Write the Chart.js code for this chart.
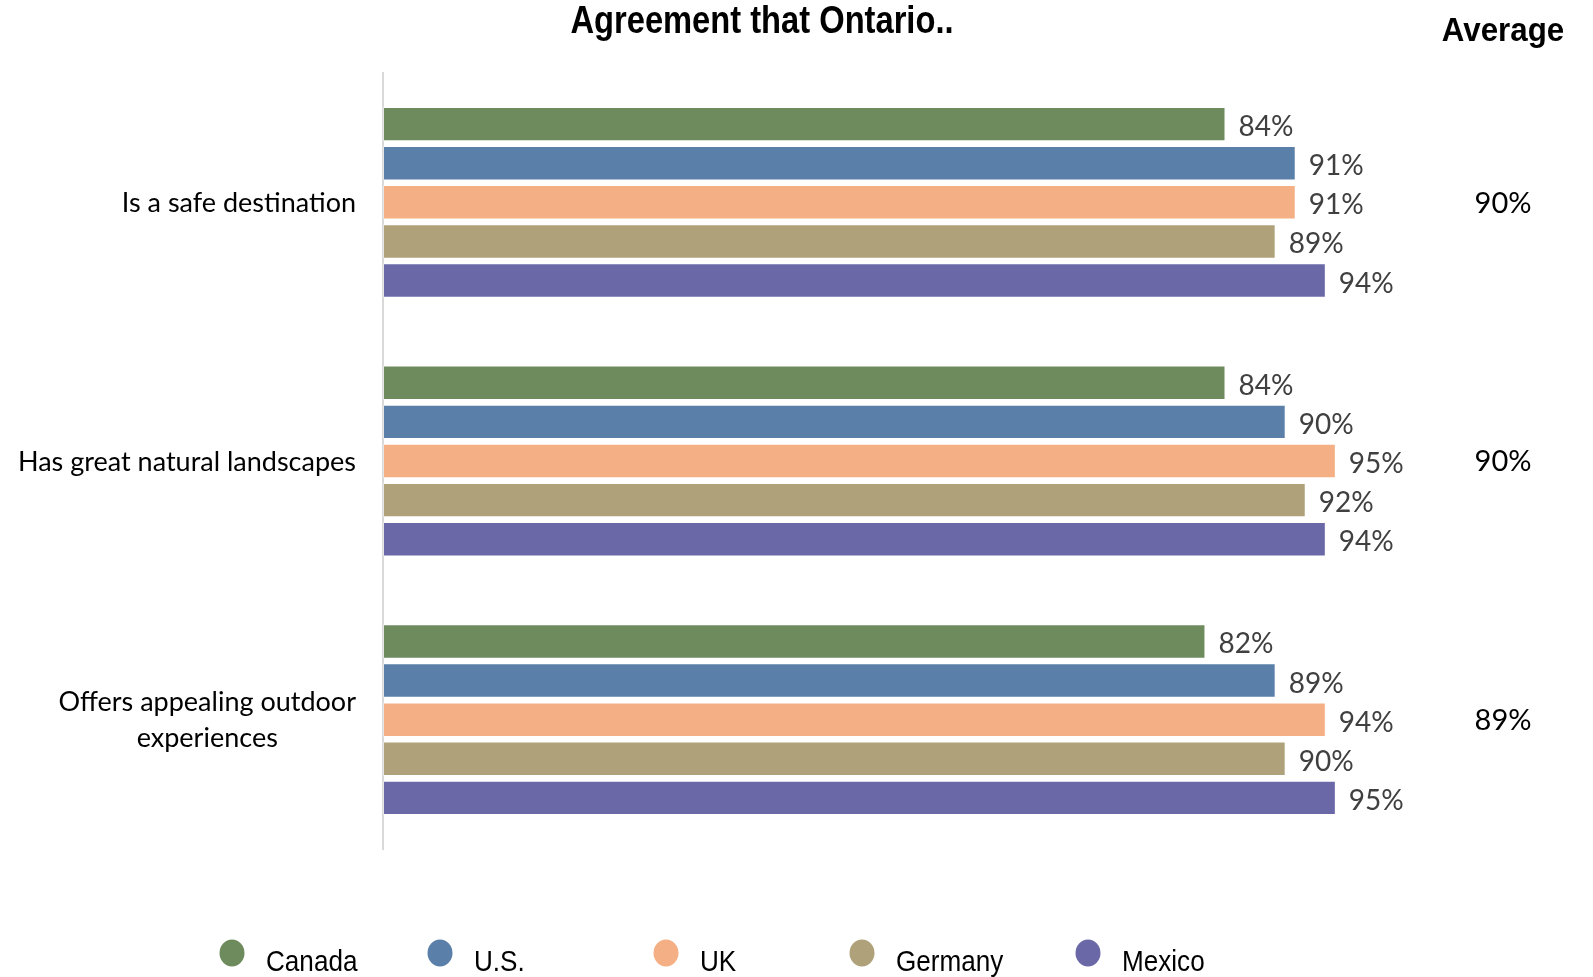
<!DOCTYPE html>
<html lang="en">
<head>
    <meta charset="UTF-8">
    <title>Agreement that Ontario..</title>
    <script src="https://cdn.jsdelivr.net/npm/chart.js@4.4.0/dist/chart.umd.min.js"></script>
    <style>
        html, body { margin: 0; padding: 0; background: #fff; }
        #wrap { position: relative; width: 1593px; height: 977px; }
    </style>
</head>
<body>
    <div id="wrap"><canvas id="myChart"></canvas></div>

    <script>
        'use strict';

        // statements (multi-line labels are arrays of lines)
        const categories = [
            ['Is a safe destination'],
            ['Has great natural landscapes'],
            ['Offers appealing outdoor', 'experiences']
        ];
        const markets = ['Canada', 'U.S.', 'UK', 'Germany', 'Mexico'];
        const marketColors = ['#6E8B5D', '#5A7FA8', '#F4B084', '#AFA17A', '#6B68A8'];

        // % agreeing, one array per market
        const canada = [84, 84, 82];
        const us = [91, 90, 89];
        const uk = [91, 95, 94];
        const germany = [89, 92, 90];
        const mexico = [94, 94, 95];
        const averages = [90, 90, 89];

        const seriesValues = [canada, us, uk, germany, mexico];

        const TEXT_FONT = 'Lato, "Open Sans", sans-serif';
        const HEAD_FONT = '"Liberation Sans", Arial, sans-serif';

        // draw text squeezed horizontally (condensed look without a condensed font)
        function narrowText(ctx, text, x, y, sx, align) {
            const w = ctx.measureText(text).width * sx;
            let left = x;
            if (align === 'center') left = x - w / 2;
            ctx.save();
            ctx.textAlign = 'left';
            ctx.translate(left, y);
            ctx.scale(sx, 1);
            ctx.fillText(text, 0, 0);
            ctx.restore();
        }

        // value label after each bar
        const barLabels = {
            id: 'barLabels',
            afterDatasetsDraw(chart) {
                const ctx = chart.ctx;
                ctx.save();
                ctx.font = '28px ' + TEXT_FONT;
                ctx.fillStyle = '#404040';
                ctx.textAlign = 'left';
                ctx.textBaseline = 'middle';
                chart.data.datasets.forEach((ds, i) => {
                    chart.getDatasetMeta(i).data.forEach((bar, j) => {
                        ctx.fillText(ds.data[j] + '%', bar.x + 13, bar.y + 3);
                    });
                });
                ctx.restore();
            }
        };

        // category labels: block right-aligned to the axis, lines centred in the block
        const categoryLabels = {
            id: 'categoryLabels',
            afterDraw(chart) {
                const ctx = chart.ctx;
                const yScale = chart.scales.y;
                const right = chart.chartArea.left - 27;
                const lineH = 36;
                ctx.save();
                ctx.font = '27px ' + TEXT_FONT;
                ctx.fillStyle = '#000';
                ctx.textAlign = 'center';
                ctx.textBaseline = 'middle';
                categories.forEach((lines, i) => {
                    const w = Math.max(...lines.map(l => ctx.measureText(l).width));
                    const cx = right - w / 2;
                    const cy = yScale.getPixelForValue(i) + 1;
                    lines.forEach((l, k) => {
                        ctx.fillText(l, cx, cy + (k - (lines.length - 1) / 2) * lineH);
                    });
                });
                ctx.restore();
            }
        };

        // title, "Average" column and legend
        const extras = {
            id: 'extras',
            afterDraw(chart) {
                const ctx = chart.ctx;
                const yScale = chart.scales.y;
                ctx.save();
                ctx.fillStyle = '#000';
                ctx.textBaseline = 'middle';
                ctx.textAlign = 'center';

                ctx.font = 'bold 38px ' + HEAD_FONT;
                narrowText(ctx, 'Agreement that Ontario..', 762, 23, 0.86, 'center');

                const avgX = 1503;
                ctx.font = 'bold 34px ' + HEAD_FONT;
                narrowText(ctx, 'Average', avgX, 32, 0.92, 'center');
                ctx.font = '29px ' + TEXT_FONT;
                averages.forEach((v, i) => {
                    ctx.fillText(v + '%', avgX, yScale.getPixelForValue(i) + 1);
                });

                const legendX = [232, 440, 666, 862, 1088];
                ctx.font = '30px ' + HEAD_FONT;
                markets.forEach((m, i) => {
                    ctx.fillStyle = marketColors[i];
                    ctx.beginPath();
                    ctx.ellipse(legendX[i], 953, 12.5, 13.5, 0, 0, Math.PI * 2);
                    ctx.fill();
                    ctx.fillStyle = '#000';
                    narrowText(ctx, m, legendX[i] + 34, 963, 0.87, 'left');
                });
                ctx.restore();
            }
        };

        const ctx = document.getElementById('myChart').getContext('2d');
        const myChart = new Chart(ctx, {
            type: 'bar',
            data: {
                labels: categories.map(c => c.join(' ')),
                datasets: markets.map((m, i) => ({
                    label: m,
                    data: seriesValues[i],
                    backgroundColor: marketColors[i],
                    borderColor: 'rgba(255,255,255,0.35)',
                    borderWidth: 1,
                    borderSkipped: false,
                    barPercentage: 0.88,
                    categoryPercentage: 0.756
                }))
            },
            options: {
                indexAxis: 'y',
                responsive: true,
                maintainAspectRatio: false,
                animation: false,
                layout: {
                    padding: { top: 73, bottom: 128, right: 207, left: 0 }
                },
                plugins: {
                    legend: { display: false },
                    tooltip: { enabled: false }
                },
                scales: {
                    x: {
                        display: false,
                        min: 0,
                        max: 100
                    },
                    y: {
                        afterFit: (s) => { s.width = 383; },
                        grid: { display: false },
                        border: { display: true, color: '#D9D9D9', width: 2 },
                        ticks: { display: false }
                    }
                }
            },
            plugins: [barLabels, categoryLabels, extras]
        });
    </script>
</body>
</html>
